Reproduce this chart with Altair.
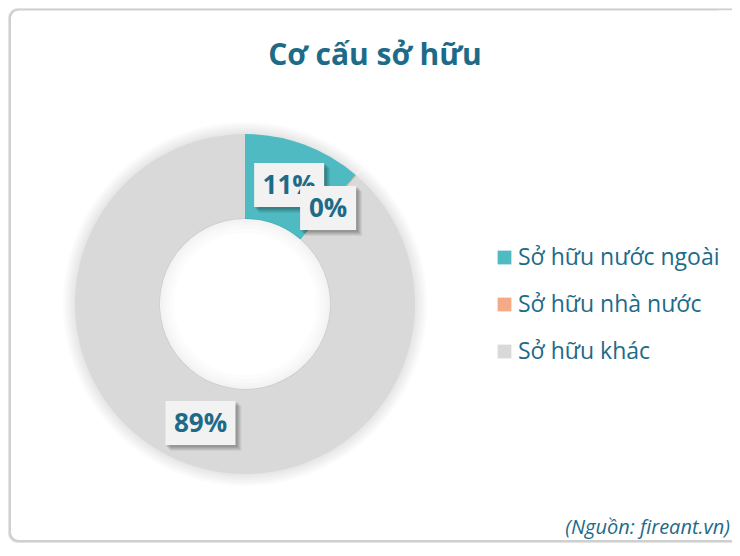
import altair as alt
import pandas as pd

# ---- data ----
categories = ["Sở hữu nước ngoài", "Sở hữu nhà nước", "Sở hữu khác"]
shares = [11.3, 0.1, 88.6]
order_idx = [0, 1, 2]
colors = ["#4fbac1", "#f4aa86", "#d9d9d9"]

title_text = "Cơ cấu sở hữu"
source_text = "(Nguồn: fireant.vn)"

df = pd.DataFrame({"cat": categories, "share": shares, "idx": order_idx})

# ---- layout constants ----
W, H = 724, 535
CX, CY = 237, 296
R_OUT, R_IN = 170, 85
R_LAB = 127
TXT = "#1d6b88"
FONT = "Open Sans"

base = alt.Chart(df)
one = base.transform_filter("datum.idx == 0")

# frame with soft shadow (shadow stops short of the clipped right edge)
frame_shadow1 = one.mark_rect(cornerRadius=10, fill="#e4e4e4").encode(
    x=alt.value(0), x2=alt.value(W - 10), y=alt.value(0), y2=alt.value(H))
frame_shadow2 = one.mark_rect(cornerRadius=9, fill="#cfcfcf").encode(
    x=alt.value(1), x2=alt.value(W - 10), y=alt.value(1), y2=alt.value(H - 1))
top_strip1 = one.mark_rect(fill="#e4e4e4").encode(
    x=alt.value(W - 30), x2=alt.value(W + 30), y=alt.value(0), y2=alt.value(1))
top_strip2 = one.mark_rect(fill="#cfcfcf").encode(
    x=alt.value(W - 30), x2=alt.value(W + 30), y=alt.value(1), y2=alt.value(2.5))
bot_strip1 = one.mark_rect(fill="#e4e4e4").encode(
    x=alt.value(W - 30), x2=alt.value(W + 30), y=alt.value(H - 1), y2=alt.value(H))
bot_strip2 = one.mark_rect(fill="#cfcfcf").encode(
    x=alt.value(W - 30), x2=alt.value(W + 30), y=alt.value(H - 3), y2=alt.value(H - 1))
frame = one.mark_rect(cornerRadius=8, fill="white").encode(
    x=alt.value(3), x2=alt.value(W + 30), y=alt.value(2.5), y2=alt.value(H - 3))

# donut glow (outer and inner)
glow_layers = []
for k in [12, 10, 8, 6, 4, 2]:
    glow_layers.append(base.mark_arc(
        outerRadius=R_OUT + k, innerRadius=R_OUT - 1, color="#000000", opacity=0.016
    ).encode(theta=alt.Theta("share:Q", stack=True), order=alt.Order("idx:Q"),
             x=alt.value(CX), y=alt.value(CY)))
inner_glow = []
for k in [14, 10, 6, 3]:
    inner_glow.append(base.mark_arc(
        outerRadius=R_IN + 1, innerRadius=R_IN - k, color="#000000", opacity=0.012
    ).encode(theta=alt.Theta("share:Q", stack=True), order=alt.Order("idx:Q"),
             x=alt.value(CX), y=alt.value(CY)))

color = alt.Color(
    "cat:N",
    scale=alt.Scale(domain=categories, range=colors),
    sort=categories,
    legend=alt.Legend(
        title=None, orient="none", legendX=485, legendY=238,
        symbolType="square", symbolSize=190, symbolStrokeWidth=0,
        labelFont=FONT, labelFontSize=23, labelColor=TXT,
        rowPadding=23, labelOffset=2, labelLimit=400,
    ),
)

donut = base.mark_arc(outerRadius=R_OUT, innerRadius=R_IN, stroke=None).encode(
    theta=alt.Theta("share:Q", stack=True),
    order=alt.Order("idx:Q"),
    color=color,
    x=alt.value(CX), y=alt.value(CY),
)

lab = base.transform_joinaggregate(total="sum(share)").transform_window(
    cum="sum(share)", sort=[alt.SortField("idx")], frame=[None, 0]
).transform_calculate(
    ang="2*PI*(datum.cum - datum.share/2)/datum.total",
    px=f"{CX} + {R_LAB}*sin(datum.ang)",
    py=f"{CY} - {R_LAB}*cos(datum.ang)",
    label="format(datum.share, '.0f') + '%'",
    bw="14*length(datum.label) + 28",
    x1="datum.px - datum.bw/2",
    x2="datum.px + datum.bw/2",
    y1="datum.py - 22",
    y2="datum.py + 22",
)

def rect_enc(m):
    return m.encode(
        x=alt.X("x1:Q", scale=None, axis=None), x2="x2:Q",
        y=alt.Y("y1:Q", scale=None, axis=None), y2="y2:Q",
    )

label_layers = []
for i in order_idx:
    sub = lab.transform_filter(f"datum.idx == {i}")
    for k, op in [(6, 0.05), (5, 0.06), (4, 0.07), (3, 0.08), (2, 0.08)]:
        label_layers.append(rect_enc(sub.mark_rect(
            fill="#000000", opacity=op,
            xOffset=k - 1, x2Offset=k, yOffset=k - 1, y2Offset=k)))
    label_layers.append(rect_enc(sub.mark_rect(fill="#f2f2f2")))
    label_layers.append(sub.mark_text(
        font=FONT, fontSize=26, fontWeight="bold", color=TXT,
        align="center", baseline="middle", dy=1,
    ).encode(
        x=alt.X("px:Q", scale=None, axis=None),
        y=alt.Y("py:Q", scale=None, axis=None),
        text="label:N",
    ))

title = one.mark_text(
    text=title_text, font=FONT, fontSize=30, fontWeight="bold", color=TXT,
    align="center", baseline="alphabetic",
).encode(x=alt.value(367), y=alt.value(57))

source = one.mark_text(
    text=source_text, font=FONT, fontSize=20, fontStyle="italic", color=TXT,
    align="right", baseline="alphabetic",
).encode(x=alt.value(W - 2), y=alt.value(H - 9))

chart = alt.layer(
    frame_shadow1, frame_shadow2, top_strip1, top_strip2, bot_strip1, bot_strip2,
    frame, *glow_layers, donut, *inner_glow,
    *label_layers, title, source
).properties(
    width=W, height=H, padding=0,
    autosize=alt.AutoSizeParams(type="none"),
    background="white",
).configure_view(stroke=None)

chart.save("out.html", embed_options={"renderer": "svg", "actions": False})
